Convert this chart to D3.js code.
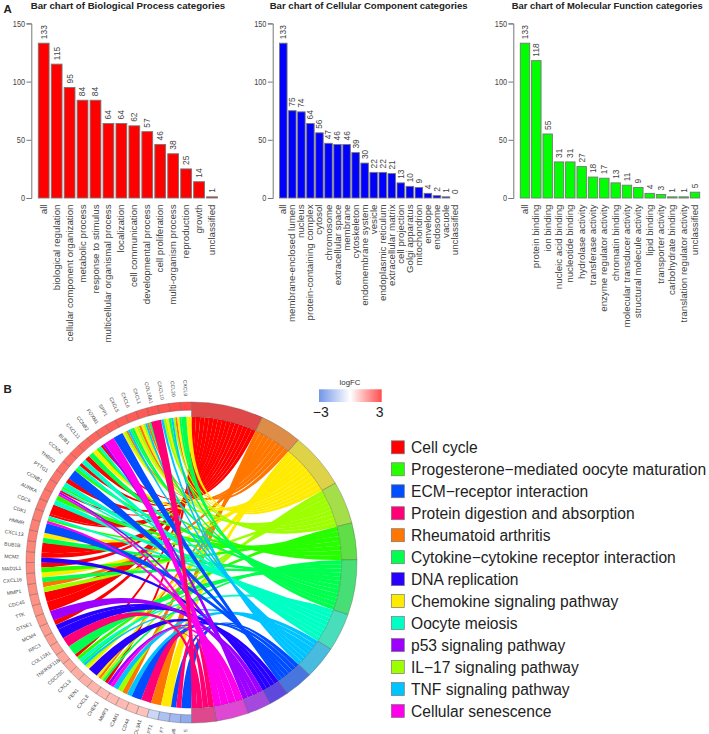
<!DOCTYPE html>
<html><head><meta charset="utf-8">
<script src="https://cdnjs.cloudflare.com/ajax/libs/d3/7.8.5/d3.min.js"></script>
<style>
html,body{margin:0;padding:0;background:#fff;overflow:hidden}
svg{display:block;font-family:"Liberation Sans",Arial,sans-serif}
</style></head><body>
<svg id="c" width="709" height="734"></svg>
<script>
// Panel A data
const bpCategories = ["all","biological regulation","cellular component organization","metabolic process","response to stimulus","multicellular organismal process","localization","cell communication","developmental process","cell proliferation","multi-organism process","reproduction","growth","unclassified"];
const bpValues = [133,115,95,84,84,64,64,62,57,46,38,25,14,1];
const ccCategories = ["all","membrane-enclosed lumen","nucleus","protein-containing complex","cytosol","chromosome","extracellular space","membrane","cytoskeleton","endomembrane system","vesicle","endoplasmic reticulum","extracellular matrix","cell projection","Golgi apparatus","mitochondrion","envelope","endosome","vacuole","unclassified"];
const ccValues = [133,75,74,64,56,47,46,46,39,30,22,22,21,13,10,9,4,2,1,0];
const mfCategories = ["all","protein binding","ion binding","nucleic acid binding","nucleotide binding","hydrolase activity","transferase activity","enzyme regulator activity","chromatin binding","molecular transducer activity","structural molecule activity","lipid binding","transporter activity","carbohydrate binding","translation regulator activity","unclassified"];
const mfValues = [133,118,55,31,31,27,18,17,13,11,9,4,3,1,1,5];
const yTicks = [0,50,100,150];

// Panel B data
const termNames = ["Cell cycle","Progesterone\u2212mediated oocyte maturation","ECM\u2212receptor interaction","Protein digestion and absorption","Rheumatoid arthritis","Cytokine\u2212cytokine receptor interaction","DNA replication","Chemokine signaling pathway","Oocyte meiosis","p53 signaling pathway","IL\u221217 signaling pathway","TNF signaling pathway","Cellular senescence"];
const termColors = ["#FF0000","#27FF00","#004EFF","#FF0076","#FF7600","#00FF4E","#2700FF","#FFEB00","#00FFC4","#9D00FF","#9DFF00","#00C4FF","#FF00EB"];
const termRingOrder = [0,4,7,10,1,5,8,11,2,6,9,12,3];
const termSize = [25.3,14.9,20.2,15.3,13.3,20,13.7,11.8,10.1,7.1,8.3,11.4,8.6]; // in ring order
const geneNames = ["5","M6","F7","PT1","COL3A1","CD44","ICAM1","MMP3","CHEK1","CXCL8","FEN1","CXCL3","CDC25C","TNFRSF11B","COL12A1","RFC3","MCM4","GTSE1","TTK","CDC45","MMP1","CXCL16","MAD2L1","MCM2","BUB1B","CXCL13","HMMR","CDK1","CDC6","AURKA","CCNB1","PTTG1","THBS2","CCNA2","BUB1","CXCL11","CCNB2","FOXM1","SPP1","CXCL5","CXCL6","CXCL1","COL18A1","CXCL10","CCL20","CXCL9"];
const clippedGenes = ["5","M6","F7","PT1"];
const geneLogFC = [-1.9,-1.6,-1.4,-0.9,0.8,0.85,0.9,0.92,0.95,1.0,1.05,1.1,1.15,1.2,1.25,1.3,1.32,1.38,1.4,1.45,1.5,1.52,1.6,1.62,1.7,1.75,1.8,1.82,1.9,1.95,2.0,2.02,2.1,2.15,2.2,2.25,2.3,2.35,2.4,2.45,2.5,2.55,2.6,2.65,2.75,2.85];
const geneTerms = [[2],[3,2],[7],[4],[3],[2],[11,4],[10,11],[12,9,0],[5,10,4,7],[6],[7,10,11,5],[8,1,0],[5],[3],[6],[6,0],[9],[0],[0],[10,4],[5,7],[1,0],[6,0],[0],[5,7],[2],[12,1,8,0],[0],[8,1],[12,9,0,8,1],[8,0],[2],[1,8,0],[8,0],[5,7],[1,8,0,9],[12],[2],[7,10,4,11,5],[5,7,10,4],[7,10,11,4,5],[3],[11,10,7,5],[11,10,4,7,5],[5,7]];

const svg = d3.select("#c");

// ---- bar panels
const panels = [
 {title:"Bar chart of Biological Process categories",cats:bpCategories,vals:bpValues,color:"#FF0000",axis:31.3,c0:43.7,c1:212,tx:30.7,tw:194.5},
 {title:"Bar chart of Cellular Component categories",cats:ccCategories,vals:ccValues,color:"#0000FF",axis:272.7,c0:283.3,c1:455,tx:269.7,tw:198},
 {title:"Bar chart of Molecular Function categories",cats:mfCategories,vals:mfValues,color:"#00FF00",axis:513.3,c0:525,c1:695,tx:511.7,tw:191}
];
const y = d3.scaleLinear().domain([0,150]).range([198,23.4]);
panels.forEach(p=>{
  const g = svg.append("g");
  const step=(p.c1-p.c0)/(p.cats.length-1);
  const x = d3.scaleBand().domain(p.cats).range([p.c0-step/2,p.c1+step/2]).paddingInner(1/6).paddingOuter(1/12);
  g.append("text").attr("x",p.tx).attr("y",9.3).attr("font-size",9.6).attr("font-weight","bold").attr("fill","#222")
    .attr("textLength",p.tw).attr("lengthAdjust","spacingAndGlyphs").text(p.title);
  g.selectAll("rect").data(p.vals).join("rect")
    .attr("x",(d,i)=>x(p.cats[i])).attr("width",x.bandwidth())
    .attr("y",d=>y(d)).attr("height",d=>y(0)-y(d))
    .attr("fill",p.color).attr("stroke","#777").attr("stroke-width",0.9);
  g.selectAll("text.v").data(p.vals).join("text").attr("class","v")
    .attr("transform",(d,i)=>`translate(${x(p.cats[i])+x.bandwidth()/2},${y(d)-4}) rotate(-90)`)
    .attr("dy","0.35em").attr("font-size",8.4).attr("fill","#444").text(d=>d);
  g.selectAll("text.c").data(p.cats).join("text").attr("class","c")
    .attr("transform",d=>`translate(${x(d)+x.bandwidth()/2},204.5) rotate(-90) scale(1.13,1)`)
    .attr("dy","0.35em").attr("text-anchor","end").attr("font-size",8.6).attr("fill","#444").text(d=>d);
  const ax = d3.axisLeft(y).tickValues(yTicks).tickSize(4.8).tickPadding(1.5).tickFormat(d3.format("d"));
  const ag = g.append("g").attr("transform",`translate(${p.axis},0)`).call(ax);
  ag.selectAll("path,line").attr("stroke","#777").attr("stroke-width",1);
  ag.selectAll("text").attr("font-size",8.6).attr("font-family","Liberation Sans").attr("fill","#444")
    .attr("transform","translate(-6.3,0) scale(0.85,1) translate(6.3,0)");
});
svg.append("text").attr("x",3.5).attr("y",13).attr("font-size",11.5).attr("font-weight","bold").attr("fill","#222").text("A");
svg.append("text").attr("x",3.5).attr("y",393).attr("font-size",11.5).attr("font-weight","bold").attr("fill","#222").text("B");

// ---- chord
const cx=191.5, cy=562.5, sy=0.97, R=165.5, Rg=157, Rr=150.3;
const chord = svg.append("g").attr("transform",`translate(${cx},${cy}) scale(1,${sy})`);
const cum=[0]; termSize.forEach(v=>cum.push(cum[cum.length-1]+v));
const tAngle=d3.scaleLinear().domain([0,cum[cum.length-1]]).range([0,Math.PI]);
const gAngle=d3.scaleLinear().domain([0,geneNames.length]).range([Math.PI,2*Math.PI]);
const ribbon=d3.ribbon();
const ringColor=c=>{const r=d3.rgb(c);return d3.rgb(72+r.r*150/255,72+r.g*150/255,72+r.b*150/255).formatHex();};

const links=[];
termRingOrder.forEach((t,ri)=>{
  const genes=[]; geneTerms.forEach((ts,gi)=>{if(ts.includes(t))genes.push(gi);});
  const a0=tAngle(cum[ri]), a1=tAngle(cum[ri+1]), w=(a1-a0)/Math.max(1,genes.length);
  genes.forEach((gi,k)=>{
    const ts=geneTerms[gi], pos=ts.indexOf(t);
    const g0=gAngle(gi), gw=(gAngle(gi+1)-g0)/ts.length;
    links.push({t,path:ribbon({
      source:{startAngle:a0+k*w,endAngle:a0+(k+1)*w,radius:Rr},
      target:{startAngle:g0+pos*gw,endAngle:g0+(pos+1)*gw,radius:Rr}})});
  });
});
chord.selectAll("path.l").data(links).join("path").attr("class","l")
  .attr("d",d=>d.path).attr("fill",d=>termColors[d.t]);

const arc=d3.arc();
chord.selectAll("path.t").data(termRingOrder).join("path").attr("class","t")
  .attr("d",(t,i)=>arc({innerRadius:Rr,outerRadius:R,startAngle:tAngle(cum[i]),endAngle:tAngle(cum[i+1])}))
  .attr("fill",t=>ringColor(termColors[t])).attr("stroke","#555").attr("stroke-width",0.5).attr("stroke-opacity",0.7);
const fc=d3.scaleLinear().domain([-3,0,1.5,3]).range(["#4f7be3","#ffffff","#ff8e80","#ff4242"]);
chord.selectAll("path.g").data(geneNames).join("path").attr("class","g")
  .attr("d",(n,i)=>arc({innerRadius:Rg,outerRadius:R,startAngle:gAngle(i),endAngle:gAngle(i+1)}))
  .attr("fill",(n,i)=>fc(geneLogFC[i])).attr("stroke","#555").attr("stroke-width",0.5).attr("stroke-opacity",0.7);

svg.append("g").selectAll("text").data(geneNames).join("text")
  .attr("transform",(n,i)=>{
     const a=gAngle(i+0.5), clipped=clippedGenes.includes(n), r=clipped?172:180;
     const p=d3.pointRadial(a,r);
     return `translate(${cx+p[0]},${cy+p[1]*sy}) rotate(${a*180/Math.PI+90})`;})
  .attr("text-anchor",n=>clippedGenes.includes(n)?"end":"middle").attr("dy","0.35em")
  .attr("font-size",5).attr("fill","#444").text(n=>n);

// colorbar
const defs=svg.append("defs");
const lg=defs.append("linearGradient").attr("id","fcg");
[[0,"#7396e8"],[0.5,"#ffffff"],[1,"#ff4d4d"]].forEach(s=>lg.append("stop").attr("offset",s[0]).attr("stop-color",s[1]));
svg.append("rect").attr("x",319).attr("y",389.3).attr("width",62.7).attr("height",12.7).attr("fill","url(#fcg)");
svg.append("text").attr("x",350).attr("y",384.5).attr("text-anchor","middle").attr("font-size",7.8).attr("fill","#333").text("logFC");
svg.append("text").attr("x",320.7).attr("y",416.5).attr("text-anchor","middle").attr("font-size",14).attr("fill","#222").text("\u22123");
svg.append("text").attr("x",379.7).attr("y",416.5).attr("text-anchor","middle").attr("font-size",14).attr("fill","#222").text("3");

// legend
const leg=svg.append("g");
const ly=d3.scaleLinear().domain([0,12]).range([447.3,711]);
leg.selectAll("rect").data(termNames).join("rect")
  .attr("x",391.3).attr("y",(d,i)=>ly(i)-6.5).attr("width",13).attr("height",13)
  .attr("fill",(d,i)=>termColors[i]).attr("stroke","#777").attr("stroke-width",0.7);
leg.selectAll("text").data(termNames).join("text")
  .attr("x",411).attr("y",(d,i)=>ly(i)).attr("dy","0.36em").attr("font-size",15.6).attr("fill","#222").text(d=>d);
</script>
</body></html>
